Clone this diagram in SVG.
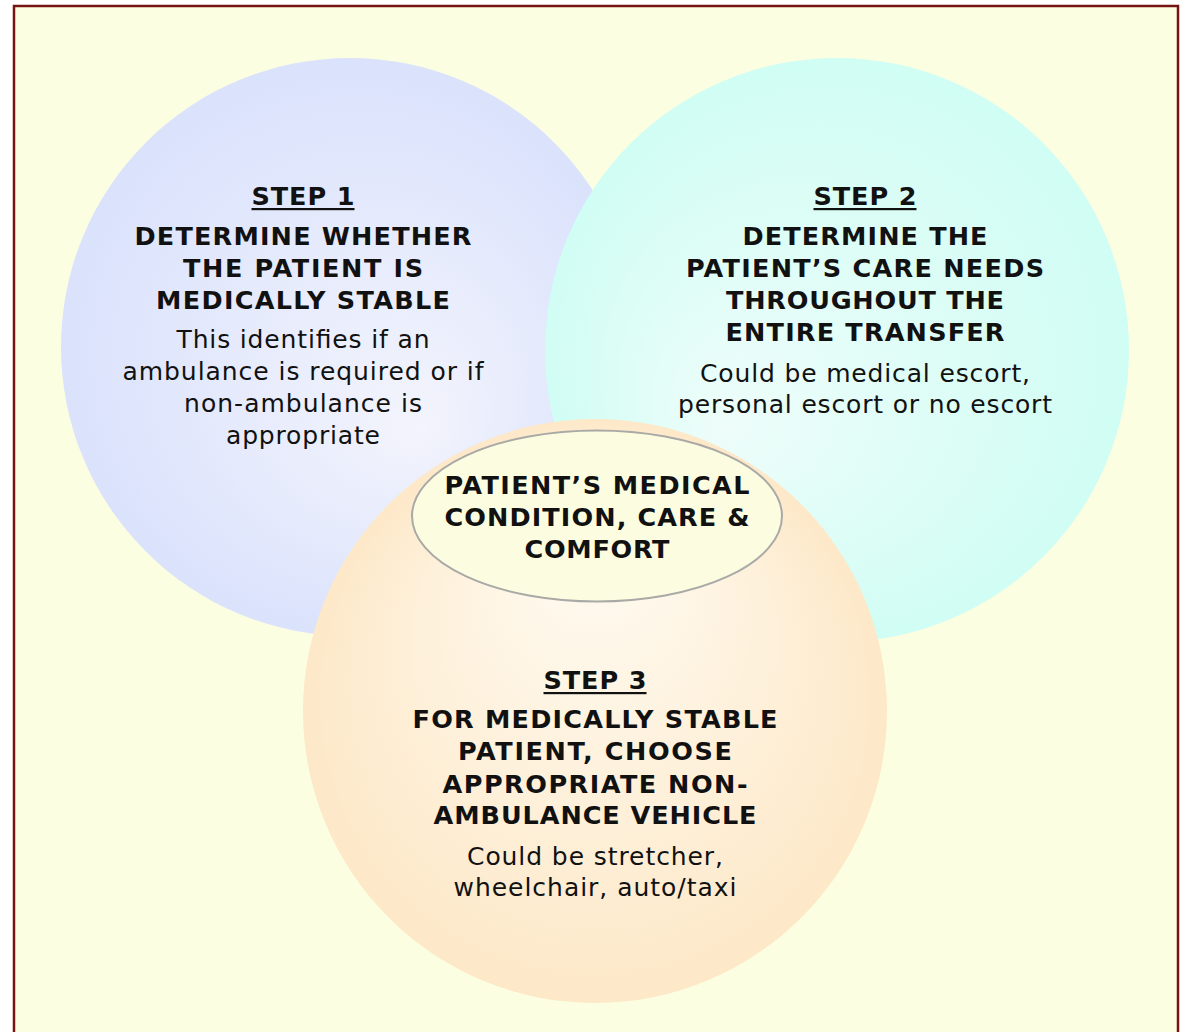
<svg xmlns="http://www.w3.org/2000/svg" width="1182" height="1032" viewBox="0 0 1182 1032">
<defs>
<style>
text{font-family:"DejaVu Sans","Verdana",sans-serif;font-size:25px;fill:#111;text-anchor:middle}
.b{font-weight:bold;font-size:25.5px}
.ul{fill:#111}
</style>
<radialGradient id="gBlue" gradientUnits="userSpaceOnUse" cx="350" cy="347" r="289" fx="420" fy="430">
<stop offset="0" stop-color="#f3f4fc"/><stop offset="1" stop-color="#dae2fc"/>
</radialGradient>
<radialGradient id="gCyan" gradientUnits="userSpaceOnUse" cx="837" cy="350" r="292" fx="720" fy="430">
<stop offset="0" stop-color="#eefdfa"/><stop offset="1" stop-color="#d0fdf4"/>
</radialGradient>
<radialGradient id="gOrange" gradientUnits="userSpaceOnUse" cx="595" cy="711" r="292" fx="595" fy="520">
<stop offset="0" stop-color="#fffcf4"/><stop offset="1" stop-color="#fde8c8"/>
</radialGradient>
</defs>
<rect x="0" y="0" width="1182" height="1032" fill="#ffffff"/>
<rect x="14" y="6" width="1164" height="1040" fill="#fcfee2" stroke="#761313" stroke-width="2.5"/>
<g id="connectors"/>
<g id="step1">
<circle cx="350" cy="347" r="289" fill="url(#gBlue)"/>
<text class="b" x="303" y="205" textLength="103" lengthAdjust="spacing">STEP 1</text>
<rect class="ul" x="251.5" y="208" width="103" height="2.2"/>
<text class="b" x="303" y="245" textLength="337" lengthAdjust="spacing">DETERMINE WHETHER</text>
<text class="b" x="303" y="277" textLength="240" lengthAdjust="spacing">THE PATIENT IS</text>
<text class="b" x="303" y="309" textLength="294" lengthAdjust="spacing">MEDICALLY STABLE</text>
<text x="303" y="348" textLength="253" lengthAdjust="spacing">This identifies if an</text>
<text x="303" y="380" textLength="361" lengthAdjust="spacing">ambulance is required or if</text>
<text x="303" y="412" textLength="238" lengthAdjust="spacing">non-ambulance is</text>
<text x="303" y="444" textLength="154" lengthAdjust="spacing">appropriate</text>
</g>
<g id="step2">
<circle cx="837" cy="350" r="292" fill="url(#gCyan)"/>
<text class="b" x="865" y="205" textLength="103" lengthAdjust="spacing">STEP 2</text>
<rect class="ul" x="813.5" y="208" width="103" height="2.2"/>
<text class="b" x="865" y="245" textLength="245" lengthAdjust="spacing">DETERMINE THE</text>
<text class="b" x="865" y="277" textLength="358" lengthAdjust="spacing">PATIENT’S CARE NEEDS</text>
<text class="b" x="865" y="309" textLength="278" lengthAdjust="spacing">THROUGHOUT THE</text>
<text class="b" x="865" y="341" textLength="279" lengthAdjust="spacing">ENTIRE TRANSFER</text>
<text x="865" y="382" textLength="330" lengthAdjust="spacing">Could be medical escort,</text>
<text x="865" y="413" textLength="374" lengthAdjust="spacing">personal escort or no escort</text>
</g>
<g id="step3">
<circle cx="595" cy="711" r="292" fill="url(#gOrange)"/>
<text class="b" x="595" y="689" textLength="103" lengthAdjust="spacing">STEP 3</text>
<rect class="ul" x="543.5" y="692" width="103" height="2.2"/>
<text class="b" x="595" y="728" textLength="365" lengthAdjust="spacing">FOR MEDICALLY STABLE</text>
<text class="b" x="595" y="760" textLength="274" lengthAdjust="spacing">PATIENT, CHOOSE</text>
<text class="b" x="595" y="793" textLength="305" lengthAdjust="spacing">APPROPRIATE NON-</text>
<text class="b" x="595" y="824" textLength="323" lengthAdjust="spacing">AMBULANCE VEHICLE</text>
<text x="595" y="865" textLength="256" lengthAdjust="spacing">Could be stretcher,</text>
<text x="595" y="896" textLength="283" lengthAdjust="spacing">wheelchair, auto/taxi</text>
</g>
<g id="center">
<ellipse cx="597" cy="516" rx="185" ry="85.5" fill="#fcfde0" stroke="#a9a9a6" stroke-width="2"/>
<text class="b" x="597" y="494" textLength="305" lengthAdjust="spacing">PATIENT’S MEDICAL</text>
<text class="b" x="597" y="526" textLength="305" lengthAdjust="spacing">CONDITION, CARE &amp;</text>
<text class="b" x="597" y="558" textLength="145" lengthAdjust="spacing">COMFORT</text>
</g>
</svg>
